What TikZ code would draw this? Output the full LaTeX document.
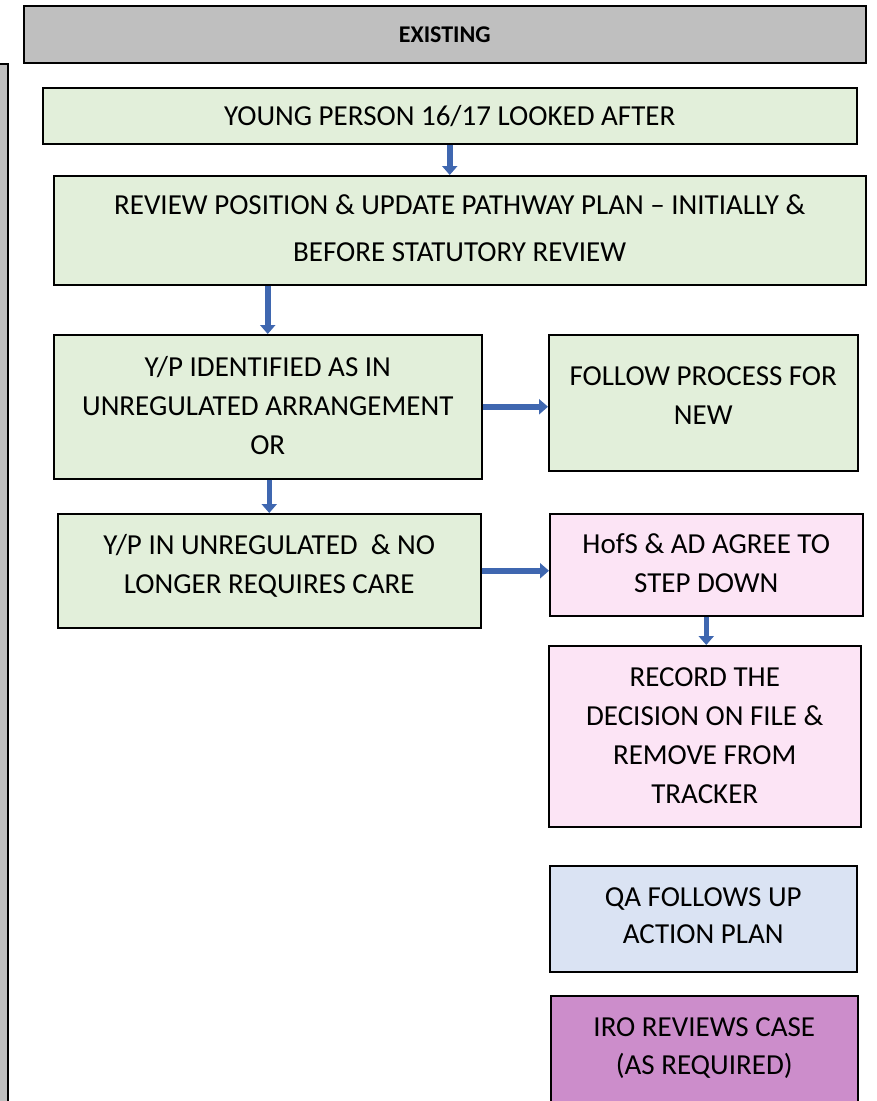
\documentclass[tikz,border=0pt]{standalone}
\usepackage{fontspec}
\setmainfont{Carlito}
\usetikzlibrary{arrows.meta}
\definecolor{boxgreen}{HTML}{E2EFDA}
\definecolor{boxpink}{HTML}{FCE4F5}
\definecolor{boxblue}{HTML}{DAE3F3}
\definecolor{boxpurple}{HTML}{CC8DCB}
\definecolor{boxgray}{HTML}{BFBFBF}
\definecolor{arrowblue}{HTML}{3F67B0}
\newcommand{\flowtext}[4]{\parbox[t][#2][t]{#1}{\centering\rule{0pt}{#3}#4}}
\begin{document}
\begin{tikzpicture}[x=1pt,y=-1pt,
  flowbox/.style={draw=black, line width=1.5pt, anchor=north west, inner sep=0pt,
    font=\fontsize{29}{39}\selectfont},
  headbox/.style={draw=black, line width=1.5pt, fill=boxgray, anchor=north west, inner sep=0pt,
    font=\fontsize{24}{28}\selectfont\bfseries},
  flowarrow/.style={line width=5.5pt, color=arrowblue, -{Triangle[length=9pt,width=15pt]}}
]
\useasboundingbox (0,0) rectangle (877,1101);
\begin{scope}
\clip (0,0) rectangle (877,1101);
\node[headbox, minimum width=842pt, minimum height=57pt] (head) at (23,5) {EXISTING};
\node[draw=black, line width=1.5pt, fill=boxgray, anchor=north west, inner sep=0pt,
  minimum width=30pt, minimum height=1060pt] (left) at (-23,63) {};
\node[flowbox, fill=boxgreen] (young) at (42,87)
  {\flowtext{814pt}{56pt}{38pt}{YOUNG PERSON 16/17 LOOKED AFTER}};
\node[flowbox, fill=boxgreen] (review) at (53,175)
  {\flowtext{812pt}{109pt}{39pt}{REVIEW POSITION \& UPDATE PATHWAY PLAN -- INITIALLY \&\\[8pt] BEFORE STATUTORY REVIEW}};
\node[flowbox, fill=boxgreen] (ident) at (53,334)
  {\flowtext{428pt}{144pt}{42pt}{Y/P IDENTIFIED AS IN\\ UNREGULATED ARRANGEMENT\\ OR}};
\node[flowbox, fill=boxgreen] (follow) at (548,334)
  {\flowtext{309pt}{136pt}{51pt}{FOLLOW PROCESS FOR\\ NEW}};
\node[flowbox, fill=boxgreen] (unreg) at (57,513)
  {\flowtext{423pt}{114pt}{41pt}{Y/P IN UNREGULATED\ \ \& NO\\ LONGER REQUIRES CARE}};
\node[flowbox, fill=boxpink] (hofs) at (549,513)
  {\flowtext{313pt}{102pt}{40pt}{HofS \& AD AGREE TO\\ STEP DOWN}};
\node[flowbox, fill=boxpink] (record) at (548,645)
  {\flowtext{312pt}{181pt}{41pt}{RECORD THE\\ DECISION ON FILE \&\\ REMOVE FROM\\ TRACKER}};
\node[flowbox, fill=boxblue] (qa) at (549,865)
  {\flowtext{307pt}{106pt}{41pt}{QA FOLLOWS UP\\[-2pt] ACTION PLAN}};
\node[flowbox, fill=boxpurple] (iro) at (550,995)
  {\flowtext{307pt}{130pt}{41pt}{IRO REVIEWS CASE\\[-1pt] (AS REQUIRED)}};
\end{scope}
\draw[flowarrow] (young.south) -- (young.south |- review.north);
\draw[flowarrow] (ident.north |- review.south) -- (ident.north);
\draw[flowarrow] (ident.east) -- (ident.east -| follow.west);
\draw[flowarrow] (unreg.north |- ident.south) -- (unreg.north);
\draw[flowarrow] (unreg.east) -- (unreg.east -| hofs.west);
\draw[flowarrow] (hofs.south) -- (hofs.south |- record.north);
\end{tikzpicture}
\end{document}
